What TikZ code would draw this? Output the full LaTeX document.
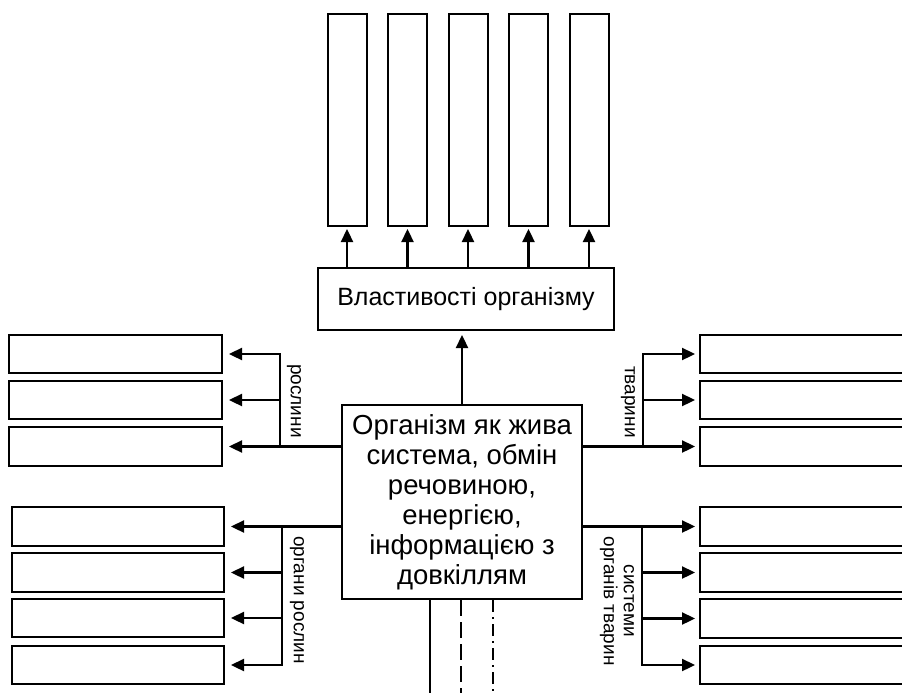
\documentclass[tikz,border=0pt]{standalone}
\usepackage{fontspec}
\setmainfont{Liberation Sans}
\usetikzlibrary{arrows.meta, positioning, calc}

\tikzset{
    box/.style={draw, line width=2pt, inner sep=0pt},
    tallbox/.style={box, minimum width=39pt, minimum height=212pt},
    widebox/.style={box, minimum width=213pt, minimum height=38.5pt},
    conn/.style={line width=2.3pt},
    arr/.style={conn, -{Triangle[length=13pt,width=12pt]}, shorten >=#1},
    arr/.default=4pt,
    sidelabel/.style={rotate=-90, inner sep=0pt, align=center,
                      font=\fontsize{19}{20}\selectfont}
}

\begin{document}
\begin{tikzpicture}[x=1pt, y=-1pt]
    \useasboundingbox (0,0) rectangle (902,693);
    \clip (0,0) rectangle (902,693);

    % Central box
    \node[box, minimum width=240pt, minimum height=194pt, align=center,
          font=\fontsize{27.5}{30}\selectfont] (organism) at (462,502)
        {Організм як жива\\система, обмін\\речовиною,\\енергією,\\інформацією з\\довкіллям};

    % Properties
    \node[box, minimum width=296pt, minimum height=62pt,
          font=\fontsize{25}{30}\selectfont] (props) at (466,299) {Властивості організму};
    \draw[arr] (organism.north) -- (organism.north |- props.south);

    % Top boxes
    \foreach \i in {1,...,5} {
        \node[tallbox] (prop\i) at ({347+60.5*(\i-1)},120) {};
        \draw[arr=2pt] (prop\i.south |- props.north) -- (prop\i.south);
    }

    % Left: plants
    \foreach \i/\y in {1/354,2/400,3/446.5}
        \node[widebox] (plant\i) at (115.5,\y) {};
    \coordinate (plantbus) at (280,0);
    \draw[arr=6pt] (organism.west |- plant3) -- (plant3.east);
    \draw[arr=6pt] (plantbus |- plant3) -- (plantbus |- plant1) -- (plant1.east);
    \draw[arr=6pt] (plantbus |- plant2) -- (plant2.east);
    \node[sidelabel] (plantlabel) at (294,401) {рослини};

    % Left: plant organs
    \foreach \i/\y in {1/526.5,2/572.5,3/618,4/665}
        \node[widebox, minimum width=212pt] (organ\i) at (118,\y) {};
    \coordinate (organbus) at (282,0);
    \draw[arr=6pt] (organism.west |- organ1) -- (organ1.east);
    \draw[arr=6pt] (organbus |- organ1) -- (organbus |- organ4) -- (organ4.east);
    \foreach \i in {2,3}
        \draw[arr=6pt] (organbus |- organ\i) -- (organ\i.east);
    \node[sidelabel] (organlabel) at (297,600) {органи рослин};

    % Right: animals
    \foreach \i/\y in {1/354,2/400,3/446.5}
        \node[widebox, minimum width=215pt] (animal\i) at (807.5,\y) {};
    \coordinate (animalbus) at (643,0);
    \draw[arr] (organism.east |- animal3) -- (animal3.west);
    \draw[arr] (animalbus |- animal3) -- (animalbus |- animal1) -- (animal1.west);
    \draw[arr] (animalbus |- animal2) -- (animal2.west);
    \node[sidelabel] (animallabel) at (628,402) {тварини};

    % Right: animal organ systems
    \foreach \i/\y in {1/526.5,2/572.5,3/618.5,4/665}
        \node[widebox, minimum width=215pt] (system\i) at (807.5,\y) {};
    \coordinate (systembus) at (642,0);
    \draw[arr] (organism.east |- system1) -- (system1.west);
    \draw[arr] (systembus |- system1) -- (systembus |- system4) -- (system4.west);
    \foreach \i in {2,3}
        \draw[arr] (systembus |- system\i) -- (system\i.west);
    \node[sidelabel] (systemlabel) at (617,601) {системи\\органів тварин};

    % Lines leaving the bottom
    \coordinate (solidend) at (430,700);
    \coordinate (dashend) at (461,700);
    \coordinate (dotend) at (493,700);
    \draw[conn] (organism.south -| solidend) -- (solidend);
    \draw[conn, dash pattern=on 16pt off 6pt] (organism.south -| dashend) -- (dashend);
    \draw[conn, dash pattern=on 12pt off 5pt on 2pt off 5pt] (organism.south -| dotend) -- (dotend);
\end{tikzpicture}
\end{document}
